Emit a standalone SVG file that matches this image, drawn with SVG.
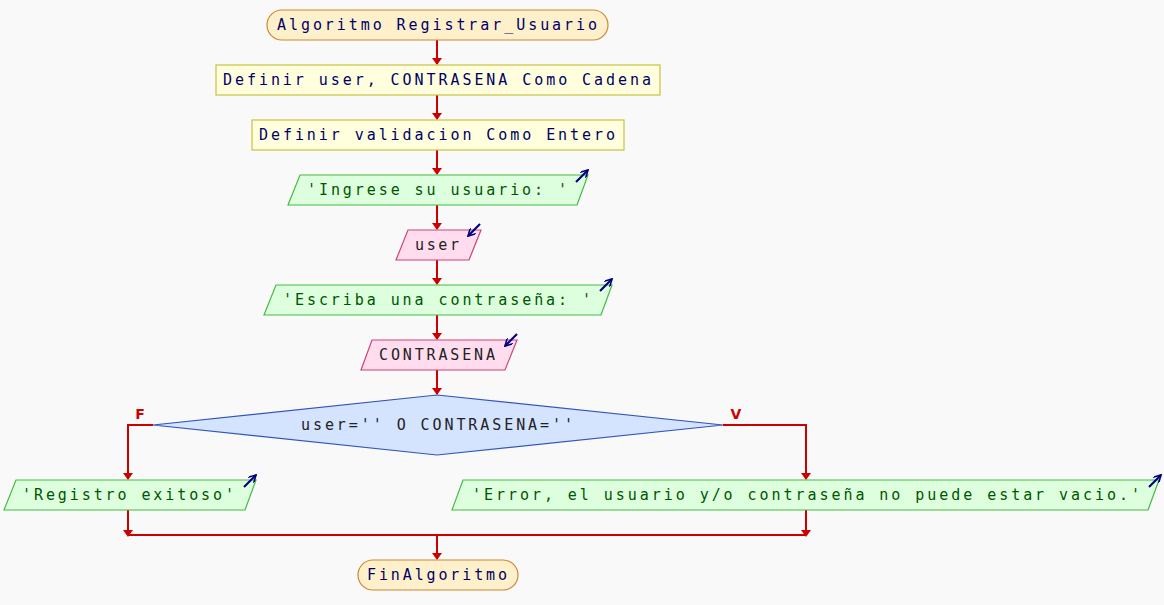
<svg xmlns="http://www.w3.org/2000/svg" width="1164" height="605" viewBox="0 0 1164 605">
<defs>
<style>
.t{font-family:"DejaVu Sans Mono","Liberation Mono",monospace;font-size:15px;text-anchor:middle}
.term{fill:#fff0cc;stroke:#cc8833;stroke-width:1.2}
.proc{fill:#ffffdd;stroke:#c8c040;stroke-width:1.2}
.out{fill:#ddffdd;stroke:#44bb44;stroke-width:1.2}
.inp{fill:#ffddee;stroke:#cc4477;stroke-width:1.2}
.dec{fill:#d4e4ff;stroke:#3355bb;stroke-width:1.2}
.tb{fill:#000066}
.tg{fill:#005500}
.tk{fill:#222222}
.ln{fill:none;stroke:#cc0000;stroke-width:2}
.ic{fill:none;stroke:#000080;stroke-width:2.2}
.lbl{font-family:"DejaVu Sans","Liberation Sans",sans-serif;font-size:14px;font-weight:bold;fill:#cc0000;text-anchor:middle}
</style>
<marker id="ia" viewBox="0 0 10 10" refX="9" refY="5" markerWidth="8" markerHeight="8" markerUnits="userSpaceOnUse" orient="auto">
<path d="M0,0 L9,5 L0,10" fill="none" stroke="#000080" stroke-width="2"/>
</marker>
</defs>
<rect width="1164" height="605" fill="#f9f9f9"/>
<g id="connectors">
<path class="ln" d="M437,40 V64"/>
<path class="ln" d="M437,95 V119"/>
<path class="ln" d="M437,150 V174"/>
<path class="ln" d="M437,205 V229"/>
<path class="ln" d="M437,260 V284"/>
<path class="ln" d="M437,315 V339"/>
<path class="ln" d="M437,370 V394"/>
<path class="ln" d="M153,425 H128 V479"/>
<path class="ln" d="M723,425 H806 V479"/>
<path class="ln" d="M128,510 V534"/>
<path class="ln" d="M806,510 V534"/>
<path class="ln" d="M128,535 H806"/>
<path class="ln" d="M437,535 V559"/>
<g fill="#cc0000">
<path d="M432,58 L442,58 L437,65 Z"/>
<path d="M432,113 L442,113 L437,120 Z"/>
<path d="M432,168 L442,168 L437,175 Z"/>
<path d="M432,223 L442,223 L437,230 Z"/>
<path d="M432,278 L442,278 L437,285 Z"/>
<path d="M432,333 L442,333 L437,340 Z"/>
<path d="M432,388 L442,388 L437,395 Z"/>
<path d="M123,473 L133,473 L128,480 Z"/>
<path d="M801,473 L811,473 L806,480 Z"/>
<path d="M123,530 L133,530 L128,537 Z"/>
<path d="M801,530 L811,530 L806,537 Z"/>
<path d="M432,553 L442,553 L437,560 Z"/>
</g>
<text class="lbl" x="140" y="419">F</text>
<text class="lbl" x="736" y="419">V</text>
</g>
<g id="start">
<rect class="term" x="267" y="10" width="341" height="30" rx="15"/>
<text class="t tb" x="437" y="30" textLength="320" lengthAdjust="spacing">Algoritmo Registrar_Usuario</text>
</g>
<g id="def1">
<rect class="proc" x="216" y="65" width="444" height="30"/>
<text class="t tb" x="437" y="85" textLength="428" lengthAdjust="spacing">Definir user, CONTRASENA Como Cadena</text>
</g>
<g id="def2">
<rect class="proc" x="252" y="120" width="372" height="30"/>
<text class="t tb" x="437" y="140" textLength="356" lengthAdjust="spacing">Definir validacion Como Entero</text>
</g>
<g id="out1">
<path class="out" d="M300,175 H588 L577,205 H288 Z"/>
<text class="t tg" x="437" y="195" textLength="260" lengthAdjust="spacing">'Ingrese su usuario: '</text>
<path class="ic" d="M576,182 L588,170" marker-end="url(#ia)"/>
</g>
<g id="in1">
<path class="inp" d="M408,230 H481 L469,260 H396 Z"/>
<text class="t tk" x="437" y="250" textLength="44" lengthAdjust="spacing">user</text>
<path class="ic" d="M480,224 L468,236" marker-end="url(#ia)"/>
</g>
<g id="out2">
<path class="out" d="M276,285 H612 L601,315 H264 Z"/>
<text class="t tg" x="437" y="305" textLength="308" lengthAdjust="spacing">'Escriba una contraseña: '</text>
<path class="ic" d="M600,291 L612,279" marker-end="url(#ia)"/>
</g>
<g id="in2">
<path class="inp" d="M372,340 H517 L505,370 H361 Z"/>
<text class="t tk" x="437" y="360" textLength="116" lengthAdjust="spacing">CONTRASENA</text>
<path class="ic" d="M517,334 L505,346" marker-end="url(#ia)"/>
</g>
<g id="decision">
<path class="dec" d="M437,395 L723,425 L437,455 L153,425 Z"/>
<text class="t tk" x="437" y="430" textLength="272" lengthAdjust="spacing">user='' O CONTRASENA=''</text>
</g>
<g id="outF">
<path class="out" d="M16,480 H256 L245,510 H4 Z"/>
<text class="t tg" x="128" y="500" textLength="212" lengthAdjust="spacing">'Registro exitoso'</text>
<path class="ic" d="M244,487 L256,475" marker-end="url(#ia)"/>
</g>
<g id="outV">
<path class="out" d="M463,480 H1159 L1148,510 H452 Z"/>
<text class="t tg" x="806" y="500" textLength="668" lengthAdjust="spacing">'Error, el usuario y/o contraseña no puede estar vacio.'</text>
<path class="ic" d="M1149,487 L1161,475" marker-end="url(#ia)"/>
</g>
<g id="end">
<rect class="term" x="358" y="560" width="160" height="30" rx="15"/>
<text class="t tb" x="437" y="580" textLength="140" lengthAdjust="spacing">FinAlgoritmo</text>
</g>
</svg>
